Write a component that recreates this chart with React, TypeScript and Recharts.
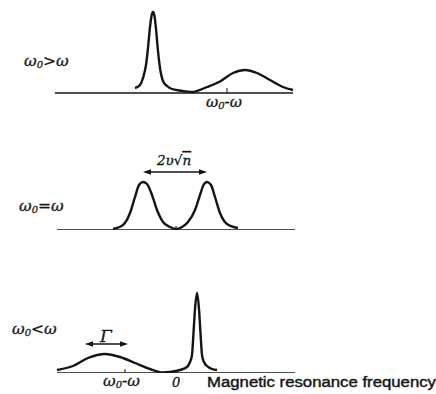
import React from "react";
import { Line, LineChart, ReferenceLine, XAxis, YAxis } from "recharts";

// frequency axis: 0 = centre, ±1 = ω0-ω
const X_DOMAIN: [number, number] = [-3.52, 5.2];

const baseline1 = [{ f: -2.42, v: 0 }, { f: 2.34, v: 0 }];
const baseline2 = [{ f: -2.38, v: 0 }, { f: 2.38, v: 0 }];
const baseline3 = [{ f: -2.38, v: 0 }, { f: 2.38, v: 0 }];

// ω0 > ω : sharp line on the left, broad band on the right
const curveAbove = [
  [-0.82, 5], [-0.72, 8], [-0.66, 15], [-0.6, 28], [-0.56, 45], [-0.52, 66],
  [-0.49, 77], [-0.46, 81], [-0.43, 77], [-0.4, 64], [-0.36, 42], [-0.32, 25],
  [-0.26, 12], [-0.18, 7], [-0.08, 4], [0.08, 2.5], [0.32, 1], [0.62, 6],
  [0.88, 11.5], [1.14, 20], [1.38, 23], [1.62, 20], [1.88, 13],
  [2.14, 6], [2.34, 3],
].map(([f, v]) => ({ f, v }));

// ω0 = ω : two equal peaks
const curveEqual = [
  [-1.26, 1], [-1.06, 5], [-0.92, 17], [-0.82, 33], [-0.74, 45], [-0.66, 48],
  [-0.58, 46], [-0.48, 35], [-0.38, 20], [-0.26, 8], [-0.12, 3], [0, 1],
  [0.12, 3], [0.24, 8], [0.38, 20], [0.48, 35], [0.55, 45], [0.62, 48],
  [0.7, 45], [0.78, 33], [0.88, 17], [1.02, 6], [1.24, 2],
].map(([f, v]) => ({ f, v }));

// ω0 < ω : broad band on the left, sharp line on the right
const curveBelow = [
  [-2.38, 3], [-2.06, 7], [-1.76, 15], [-1.42, 19], [-1.12, 16], [-0.82, 10],
  [-0.52, 4], [-0.26, 0.5], [-0.12, 1], [0.08, 3], [0.22, 6], [0.28, 11],
  [0.32, 18], [0.35, 40], [0.38, 64], [0.42, 80], [0.46, 64], [0.49, 40],
  [0.52, 18], [0.56, 11], [0.62, 7], [0.72, 4], [0.82, 3],
].map(([f, v]) => ({ f, v }));

const tick1 = { f: 1.02, from: 0, to: 5 };
const tick2 = { f: 0, from: -3, to: 4 };
const tick3 = { f: -1.02, from: 0, to: 4 };

const splitArrow = { from: -0.66, to: 0.62, v: 58 };
const gammaArrow = { from: -1.82, to: -0.96, v: 29 };

const INK = "#151515";

const ArrowShape = (props: any) => {
  const { x1, y1, x2, y2 } = props;
  const h = 8;
  const w = 2.8;
  return (
    <g>
      <line x1={x1 + 2} y1={y1} x2={x2 - 2} y2={y2} stroke={INK} strokeWidth={1.6} />
      <path d={`M${x1},${y1} L${x1 + h},${y1 - w} L${x1 + h},${y1 + w} Z`} fill={INK} />
      <path d={`M${x2},${y2} L${x2 - h},${y2 - w} L${x2 - h},${y2 + w} Z`} fill={INK} />
    </g>
  );
};

interface PanelProps {
  top: number;
  height: number;
  bottom: number;
  yMax: number;
  curve: { f: number; v: number }[];
  base: { f: number; v: number }[];
  tick: { f: number; from: number; to: number };
  arrow?: { from: number; to: number; v: number };
}

function Panel({ top, height, bottom, yMax, curve, base, tick, arrow }: PanelProps) {
  return (
    <div style={{ position: "absolute", left: 0, top }}>
      <LineChart width={436} height={height} margin={{ top: 0, right: 0, left: 0, bottom }}>
        <XAxis type="number" dataKey="f" domain={X_DOMAIN} allowDataOverflow hide />
        <YAxis type="number" domain={[0, yMax]} hide />
        <Line
          data={base}
          dataKey="v"
          type="linear"
          stroke={INK}
          strokeWidth={1.6}
          dot={false}
          activeDot={false}
          isAnimationActive={false}
        />
        <Line
          data={curve}
          dataKey="v"
          type="monotone"
          stroke={INK}
          strokeWidth={2.4}
          dot={false}
          activeDot={false}
          isAnimationActive={false}
        />
        <ReferenceLine
          segment={[{ x: tick.f, y: tick.from }, { x: tick.f, y: tick.to }]}
          stroke={INK}
          strokeWidth={1}
          ifOverflow="visible"
        />
        {arrow && (
          <ReferenceLine
            segment={[{ x: arrow.from, y: arrow.v }, { x: arrow.to, y: arrow.v }]}
            ifOverflow="visible"
            shape={ArrowShape}
          />
        )}
      </LineChart>
    </div>
  );
}

export default function App() {
  const serif = "'DejaVu Serif', 'Liberation Serif', serif";
  return (
    <div
      style={{
        position: "absolute",
        left: 0,
        top: 0,
        width: 436,
        height: 394,
        background: "#fff",
        overflow: "hidden",
      }}
    >
      <Panel top={0} height={100} bottom={7} yMax={93} curve={curveAbove} base={baseline1} tick={tick1} />
      <Panel top={130} height={100} bottom={0} yMax={100} curve={curveEqual} base={baseline2} tick={tick2} arrow={splitArrow} />
      <Panel top={273} height={100} bottom={0} yMax={100} curve={curveBelow} base={baseline3} tick={tick3} arrow={gammaArrow} />
      <svg
        width={436}
        height={394}
        style={{ position: "absolute", left: 0, top: 0, pointerEvents: "none" }}
        fontFamily={serif}
        fontStyle="italic"
        fill={INK}
        stroke={INK}
        strokeWidth={0.3}
      >
        <text x={24} y={66} fontSize={15.5}>
          ω<tspan fontSize={10} dy={2}>0</tspan>
          <tspan dy={-2}>&gt;ω</tspan>
        </text>
        <text x={206} y={107} fontSize={15}>
          ω<tspan fontSize={10} dy={2}>0</tspan>
          <tspan dy={-2}>-ω</tspan>
        </text>
        <text x={157} y={165} fontSize={13.5}>
          2υ√<tspan textDecoration="overline">n</tspan>
        </text>
        <text x={19} y={211} fontSize={15.5}>
          ω<tspan fontSize={10} dy={2}>0</tspan>
          <tspan dy={-2}>=ω</tspan>
        </text>
        <text x={12} y={334} fontSize={15.5}>
          ω<tspan fontSize={10} dy={2}>0</tspan>
          <tspan dy={-2}>&lt;ω</tspan>
        </text>
        <text x={100} y={342} fontSize={17}>Γ</text>
        <text x={103} y={386} fontSize={15.5}>
          ω<tspan fontSize={10} dy={2}>0</tspan>
          <tspan dy={-2}>-ω</tspan>
        </text>
        <text x={172} y={387} fontSize={13}>0</text>
        <text
          x={207}
          y={387}
          fontSize={14}
          fontStyle="normal"
          fontFamily="'Liberation Sans', Arial, sans-serif"
          textLength={229}
          lengthAdjust="spacingAndGlyphs"
          strokeWidth={0.4}
        >
          Magnetic resonance frequency
        </text>
      </svg>
    </div>
  );
}
